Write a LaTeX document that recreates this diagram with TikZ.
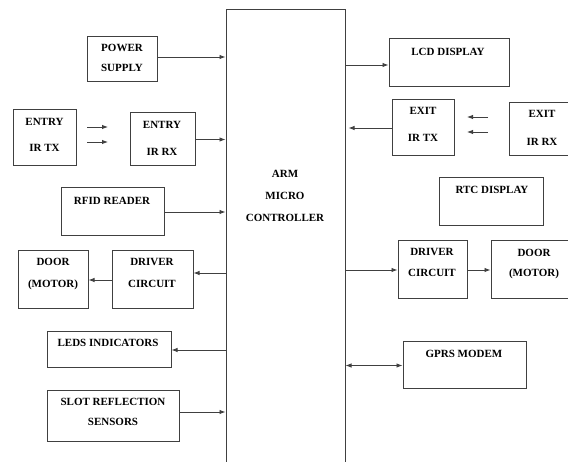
\documentclass[tikz,border=0pt]{standalone}
\usepackage{fontspec}
\setmainfont{Liberation Serif}
\usetikzlibrary{arrows.meta}
\begin{document}
\begin{tikzpicture}[x=1pt,y=-1pt,
  box/.style={draw=black!75,line width=1pt,inner sep=0pt},
  lbl/.style={inner sep=0pt,text height=7.4pt,text depth=0pt,font=\fontsize{11}{12}\selectfont\bfseries,text=black},
  arr/.style={draw=black!75,line width=0.9pt,-{Latex[length=6pt,width=4.5pt]}},
  darr/.style={draw=black!75,line width=0.9pt,{Latex[length=6pt,width=4.5pt]}-{Latex[length=6pt,width=4.5pt]}}]
\useasboundingbox (0,0) rectangle (568,462);
\clip (0,0) rectangle (568,462);
% boxes
\node[box,minimum width=70,minimum height=45] (ps) at (122,59.5) {};
\node[box,minimum width=63,minimum height=56] (etx) at (44.5,138) {};
\node[box,minimum width=65,minimum height=53] (erx) at (162.5,139.5) {};
\node[box,minimum width=103,minimum height=48] (rfid) at (112.5,212) {};
\node[box,minimum width=70,minimum height=58] (dooL) at (53,280) {};
\node[box,minimum width=81,minimum height=58] (drvL) at (152.5,280) {};
\node[box,minimum width=124,minimum height=36] (led) at (109,350) {};
\node[box,minimum width=132,minimum height=50] (slot) at (113,416) {};
\node[box,minimum width=119,minimum height=465] (arm) at (285.5,242.5) {};
\node[box,minimum width=120,minimum height=48] (lcd) at (449,63) {};
\node[box,minimum width=62,minimum height=56] (xtx) at (423,128) {};
\node[box,minimum width=71,minimum height=53] (xrx) at (544.5,129.5) {};
\node[box,minimum width=104,minimum height=48] (rtc) at (491,202) {};
\node[box,minimum width=69,minimum height=58] (drvR) at (432.5,270) {};
\node[box,minimum width=89,minimum height=58] (dooR) at (535.5,270) {};
\node[box,minimum width=123,minimum height=47] (gprs) at (464.5,365.5) {};
% labels
\node[lbl] (t1) at (122,48) {POWER};
\node[lbl] (t2) at (122,68) {SUPPLY};
\node[lbl] (t3) at (44.5,122) {ENTRY};
\node[lbl] (t4) at (44.5,148) {IR TX};
\node[lbl] (t5) at (162,125) {ENTRY};
\node[lbl] (t6) at (162,152) {IR RX};
\node[lbl] (t7) at (112,201) {RFID READER};
\node[lbl] (t8) at (53,262) {DOOR};
\node[lbl] (t9) at (53,284) {(MOTOR)};
\node[lbl] (t10) at (152,262) {DRIVER};
\node[lbl] (t11) at (152,284) {CIRCUIT};
\node[lbl] (t12) at (108,343) {LEDS INDICATORS};
\node[lbl] (t13) at (113,402) {SLOT REFLECTION};
\node[lbl] (t14) at (113,422) {SENSORS};
\node[lbl] (t15) at (285,174) {ARM};
\node[lbl] (t16) at (285,196) {MICRO};
\node[lbl] (t17) at (285,218) {CONTROLLER};
\node[lbl] (t18) at (448,52) {LCD DISPLAY};
\node[lbl] (t19) at (423,111) {EXIT};
\node[lbl] (t20) at (423,138) {IR TX};
\node[lbl] (t21) at (542,114) {EXIT};
\node[lbl] (t22) at (542,142) {IR RX};
\node[lbl] (t23) at (492,190) {RTC DISPLAY};
\node[lbl] (t24) at (432,252) {DRIVER};
\node[lbl] (t25) at (432,273) {CIRCUIT};
\node[lbl] (t26) at (534,253) {DOOR};
\node[lbl] (t27) at (534,273) {(MOTOR)};
\node[lbl] (t28) at (464,354) {GPRS MODEM};
% free ends of the wireless arrows
\coordinate (ea1) at (87,127); \coordinate (eb1) at (108,127);
\coordinate (ea2) at (87,142); \coordinate (eb2) at (108,142);
\coordinate (xa1) at (488,117); \coordinate (xb1) at (467,117);
\coordinate (xa2) at (488,132); \coordinate (xb2) at (467,132);
% connectors
\draw[arr] ([yshift=2.5pt]ps.east) -- ([yshift=2.5pt]ps.east -| arm.west);
\draw[arr] (erx.east) -- (erx.east -| arm.west);
\draw[arr] (rfid.east) -- (rfid.east -| arm.west);
\draw[arr] ([yshift=7pt]drvL.east -| arm.west) -- ([yshift=7pt]drvL.east);
\draw[arr] (drvL.west) -- (dooL.east);
\draw[arr] (led.east -| arm.west) -- (led.east);
\draw[arr] ([yshift=4pt]slot.east) -- ([yshift=4pt]slot.east -| arm.west);
\draw[arr] ([yshift=-2pt]arm.east |- lcd.west) -- ([yshift=-2pt]lcd.west);
\draw[arr] (xtx.west) -- ([xshift=3pt]xtx.west -| arm.east);
\draw[arr] (arm.east |- drvR.west) -- (drvR.west);
\draw[arr] (drvR.east) -- (dooR.west);
\draw[darr] (arm.east |- gprs.west) -- (gprs.west);
\draw[arr] (ea1) -- (eb1);
\draw[arr] (ea2) -- (eb2);
\draw[arr] (xa1) -- (xb1);
\draw[arr] (xa2) -- (xb2);
\end{tikzpicture}
\end{document}
